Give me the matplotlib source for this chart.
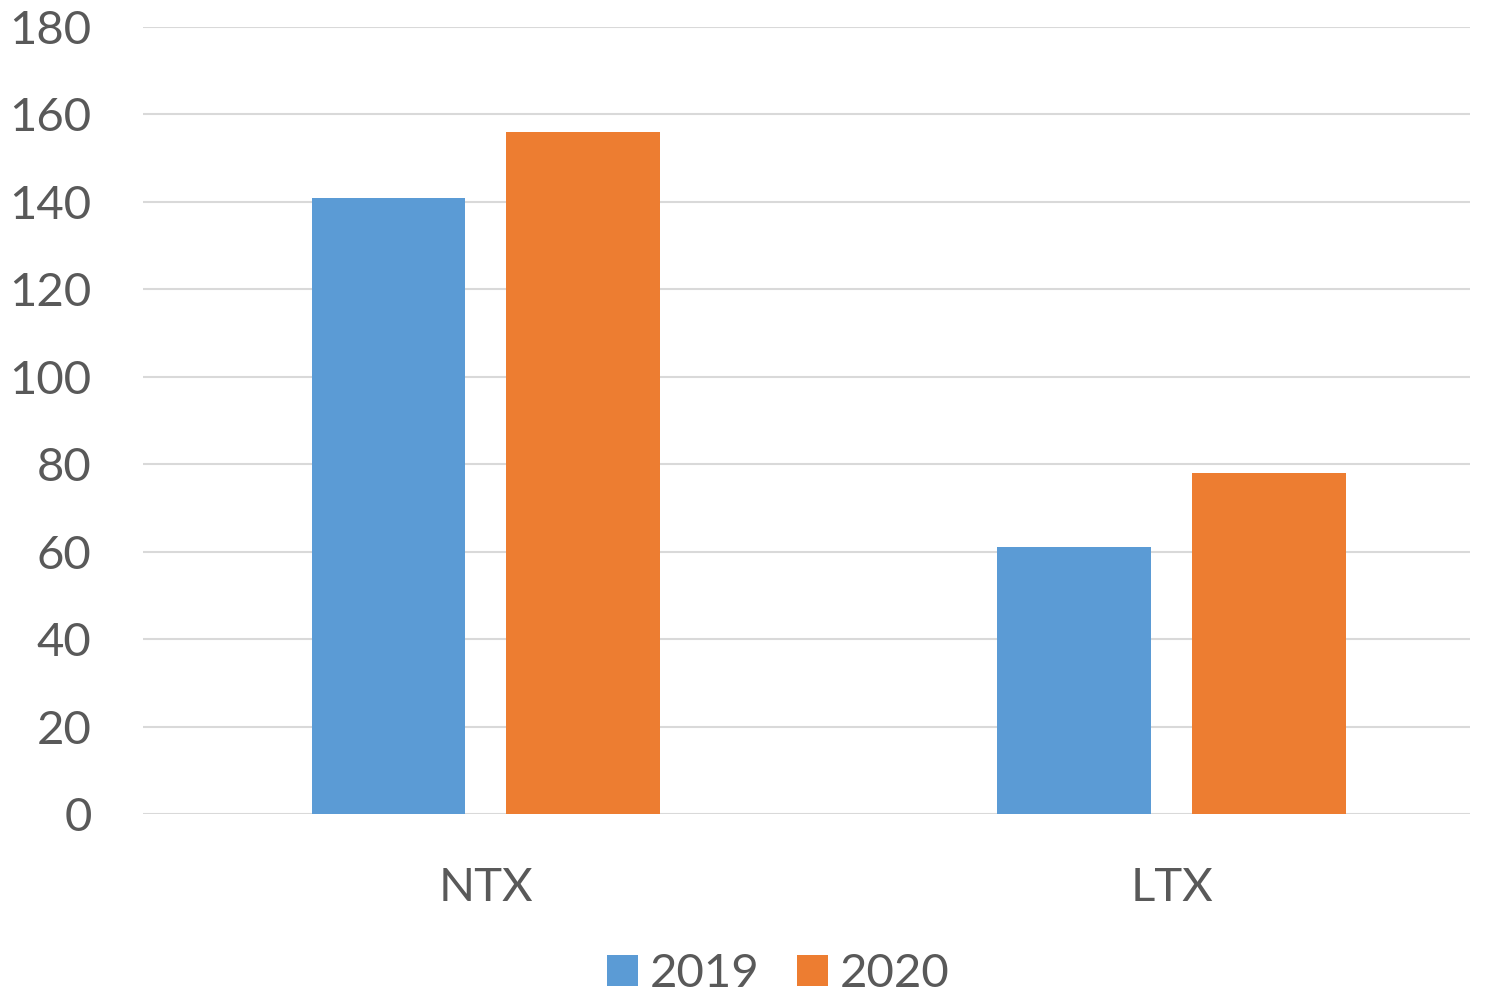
import numpy as np
import matplotlib.pyplot as plt

categories = ['NTX', 'LTX']
years = ['2019', '2020']
values_2019 = [141, 61]
values_2020 = [156, 78]

plt.rcParams['font.family'] = ['Lato', 'DejaVu Sans']

fig = plt.figure(figsize=(14.99, 9.93), dpi=100)
ax = fig.add_axes([143 / 1499, 1 - 814 / 993, (1470 - 143) / 1499, (814 - 27) / 993])

x = np.arange(len(categories))
w = 0.2245
off = 0.142
ax.bar(x - off, values_2019, w, color='#5B9BD5', label=years[0], zorder=3)
ax.bar(x + off, values_2020, w, color='#ED7D31', label=years[1], zorder=3)

ax.set_xlim(-0.5, 1.435)
ax.set_ylim(0, 180)
ax.set_yticks(np.arange(0, 181, 20))
ax.set_xticks(x)
ax.set_xticklabels(categories)
ax.grid(axis='y', color='#d9d9d9', linewidth=1.5, zorder=0)
for s in ax.spines.values():
    s.set_visible(False)
ax.tick_params(length=0, labelsize=34, colors='#595959')
ax.tick_params(axis='y', pad=37)
ax.tick_params(axis='x', pad=38)

leg = fig.legend(loc='lower center', bbox_to_anchor=(778 / 1499, -0.045), ncol=2,
                 frameon=False, fontsize=34, handlelength=0.65, handleheight=0.65,
                 handletextpad=0.25, columnspacing=0.8, labelcolor='#595959')

fig.savefig('out.png', dpi=100)
